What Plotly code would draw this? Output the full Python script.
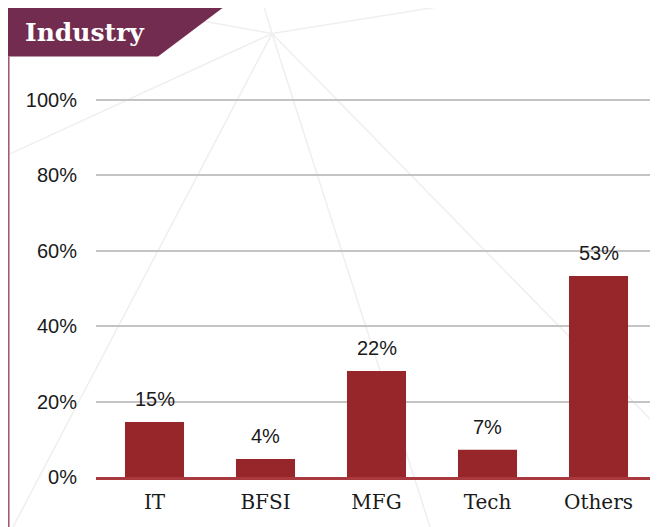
import plotly.graph_objects as go

categories = ["IT", "BFSI", "MFG", "Tech", "Others"]
bar_values = [14.6, 4.8, 28.1, 7.2, 53.3]
bar_labels = ["15%", "4%", "22%", "7%", "53%"]
y_ticks = [0, 20, 40, 60, 80, 100]
y_tick_text = ["0%", "20%", "40%", "60%", "80%", "100%"]

# the page body has an 8px margin, so the figure is drawn 8px in
OFF = 8
W, H = 658 - OFF, 527 - OFF
L, R, T, B = 96 - OFF, 0, 95.5 - OFF, 527 - 477
pw, ph = W - L - R, H - T - B


def px(x):
    # reference pixel x -> paper coordinate
    return (x - OFF - L) / pw


def py(y):
    return (H - B - (y - OFF)) / ph


fig = go.Figure()
fig.add_trace(go.Bar(
    x=categories,
    y=bar_values,
    width=0.532,
    marker=dict(color="#97262a", line=dict(width=0)),
    hoverinfo="skip",
))

for c, v, t in zip(categories, bar_values, bar_labels):
    fig.add_annotation(
        x=c, y=v, text=t, showarrow=False,
        yanchor="bottom", yshift=10,
        font=dict(family="Liberation Sans", size=20, color="#1a1a1a"),
    )

# faint decorative star lines in the background
cx, cy = 272, 33
ends = [(13, 527), (0, 158), (430, 527), (658, 427), (477, 0), (262, 0), (200, 20)]
for ex, ey in ends:
    fig.add_shape(
        type="line", xref="paper", yref="paper",
        x0=px(cx), y0=py(cy), x1=px(ex), y1=py(ey),
        line=dict(color="#efefef", width=1.5), layer="below",
    )

# left rule
fig.add_shape(
    type="line", xref="paper", yref="paper",
    x0=px(8.8), y0=py(56), x1=px(8.8), y1=py(527),
    line=dict(color="#a0506e", width=1.5),
)

# title banner
pts = [(8, 7), (223, 7), (158, 56), (8, 56)]
path = "M " + " L ".join(f"{px(a)},{py(b)}" for a, b in pts) + " Z"
fig.add_shape(
    type="path", xref="paper", yref="paper", path=path,
    fillcolor="#722c4f", line=dict(width=0),
)
fig.add_annotation(
    xref="paper", yref="paper", x=px(23), y=py(32),
    xanchor="left", yanchor="middle", showarrow=False,
    text="<b>Industry</b>",
    font=dict(family="DejaVu Serif", size=25, color="white"),
)

fig.update_layout(
    width=W, height=H,
    margin=dict(l=L, r=R, t=T, b=B, pad=0),
    paper_bgcolor="white",
    plot_bgcolor="rgba(0,0,0,0)",
    showlegend=False,
    xaxis=dict(
        range=[-0.527, 4.536],
        showgrid=False,
        showline=True, linecolor="#a83a3f", linewidth=2.5,
        ticks="", ticklabelstandoff=5,
        tickfont=dict(family="DejaVu Serif", size=20, color="#1a1a1a"),
        fixedrange=True,
    ),
    yaxis=dict(
        range=[0, 101],
        tickvals=y_ticks, ticktext=y_tick_text,
        showgrid=True, gridcolor="#c4c4c4", gridwidth=1.5,
        zeroline=False, showline=False,
        ticks="", ticklabelstandoff=18,
        tickfont=dict(family="Liberation Sans", size=20, color="#1a1a1a"),
        fixedrange=True,
    ),
)

fig.write_html("out.html")
